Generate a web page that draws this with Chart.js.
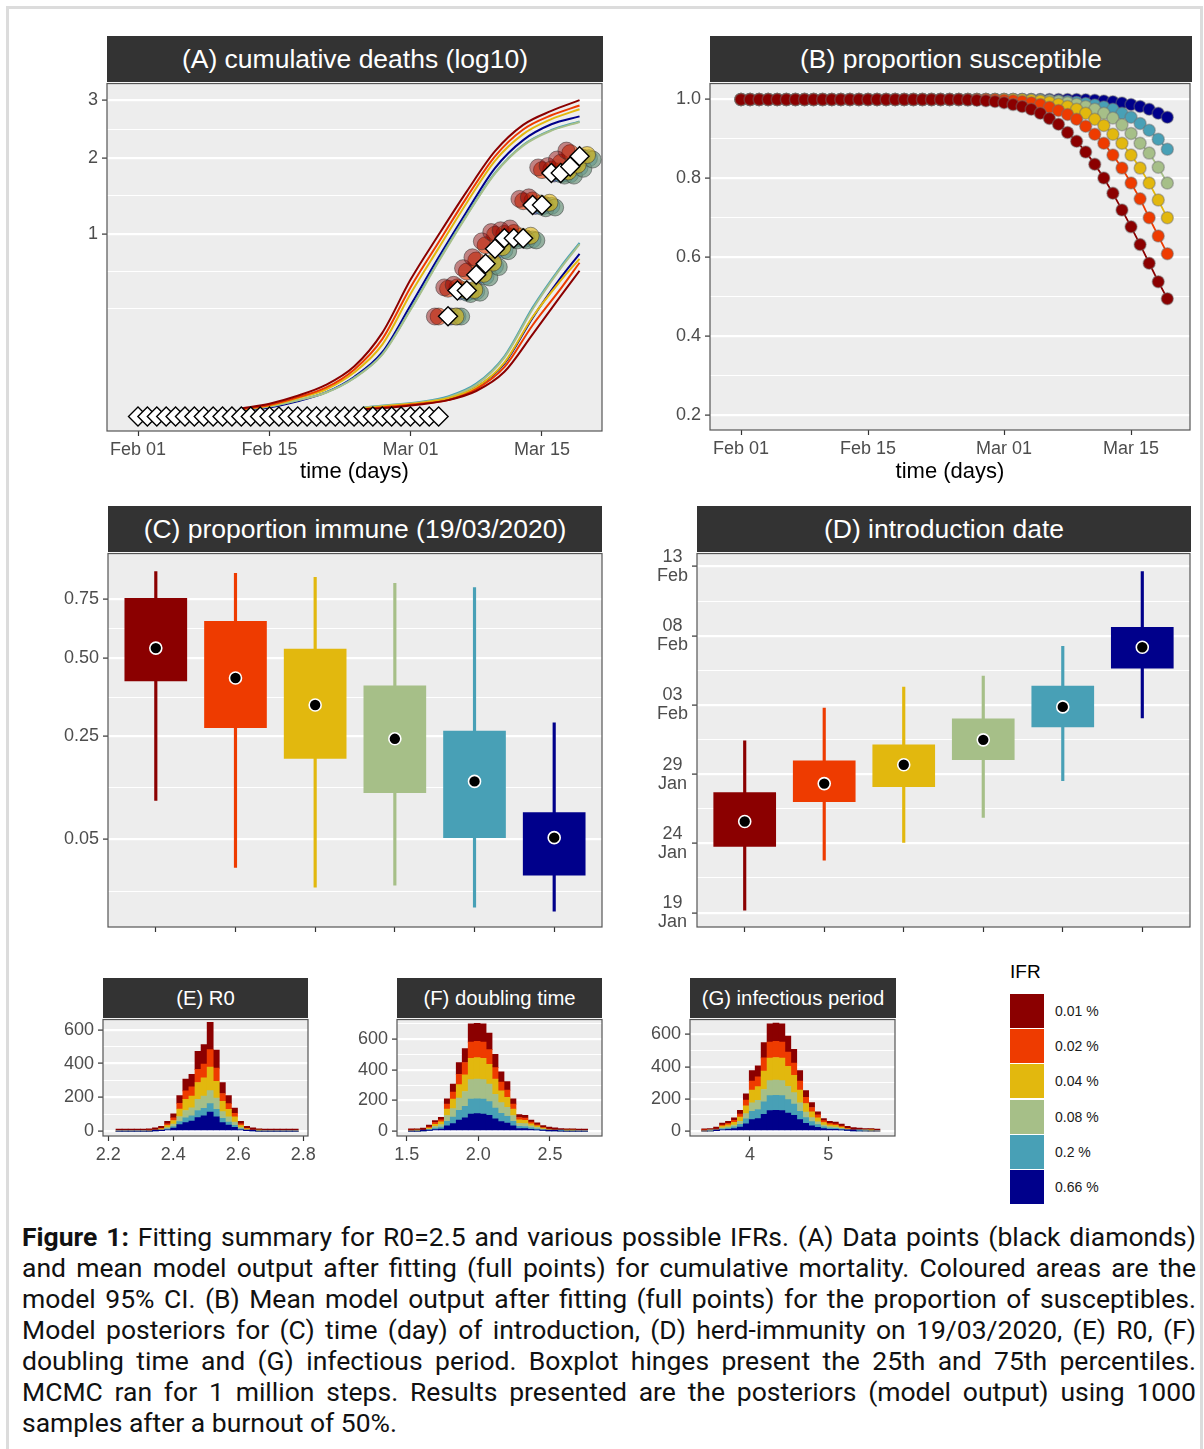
<!DOCTYPE html>
<html>
<head>
<meta charset="utf-8">
<title>Figure 1</title>
<script src="https://cdn.jsdelivr.net/npm/chart.js@4.4.1/dist/chart.umd.min.js"></script>
<style>
  body { margin: 0; background: #fff; }
  #fig { position: relative; width: 1204px; height: 1449px; overflow: hidden; font-family: 'Liberation Sans', Arial, sans-serif; }
  #frame { position: absolute; left: 6px; top: 6px; width: 1191px; height: 1500px; border: 3px solid #DCDCDC; }
  .strip { position: absolute; background: #333333; color: #fff; text-align: center; white-space: nowrap; }
  canvas { position: absolute; }
  #legend .key { position: absolute; left: 1010px; width: 34px; height: 34px; }
  #legend .lab { position: absolute; left: 1055px; font-size: 14px; line-height: 16px; color: #1a1a1a; }
  #caption { position: absolute; left: 22px; top: 1221px; width: 1174px; font-family: Roboto, sans-serif; font-size: 26.5px; line-height: 31px; color: #111; }
  #caption div { white-space: nowrap; text-align: justify; text-align-last: justify; }
  #caption div.last { text-align-last: left; }
</style>
</head>
<body>
<div id="fig">
  <div id="frame"></div>

  <div class="strip" style="left:107px;top:36px;width:496px;height:46px;line-height:46px;font-size:26.5px">(A) cumulative deaths (log10)</div>
  <div class="strip" style="left:710px;top:36px;width:482px;height:46px;line-height:46px;font-size:26.5px">(B) proportion susceptible</div>
  <div class="strip" style="left:108px;top:506px;width:494px;height:46px;line-height:46px;font-size:26.5px">(C) proportion immune (19/03/2020)</div>
  <div class="strip" style="left:697px;top:506px;width:494px;height:46px;line-height:46px;font-size:26.5px">(D) introduction date</div>
  <div class="strip" style="left:103px;top:978px;width:205px;height:40px;line-height:40px;font-size:20.3px">(E) R0</div>
  <div class="strip" style="left:397px;top:978px;width:205px;height:40px;line-height:40px;font-size:20.3px">(F) doubling time</div>
  <div class="strip" style="left:690px;top:978px;width:206px;height:40px;line-height:40px;font-size:20.3px">(G) infectious period</div>

  <canvas id="cA"></canvas>
  <canvas id="cB"></canvas>
  <canvas id="cC"></canvas>
  <canvas id="cD"></canvas>
  <canvas id="cE"></canvas>
  <canvas id="cF"></canvas>
  <canvas id="cG"></canvas>

  <div id="legend"></div>

  <div id="caption">
    <div><b>Figure 1:</b> Fitting summary for R0=2.5 and various possible IFRs. (A) Data points (black diamonds)</div>
    <div>and mean model output after fitting (full points) for cumulative mortality. Coloured areas are the</div>
    <div>model 95% CI. (B) Mean model output after fitting (full points) for the proportion of susceptibles.</div>
    <div>Model posteriors for (C) time (day) of introduction, (D) herd-immunity on 19/03/2020, (E) R0, (F)</div>
    <div>doubling time and (G) infectious period. Boxplot hinges present the 25th and 75th percentiles.</div>
    <div>MCMC ran for 1 million steps. Results presented are the posteriors (model output) using 1000</div>
    <div class="last">samples after a burnout of 50%.</div>
  </div>
</div>

<script>
Chart.defaults.font.family = "'Liberation Sans', Arial, sans-serif";

// IFR groups
const ifrLevels = ['0.01 %', '0.02 %', '0.04 %', '0.08 %', '0.2 %', '0.66 %'];
const ifrColors = ['#8B0000', '#EE3B00', '#E2B80E', '#A6BF88', '#48A0B6', '#00008B'];
const ifrFaded = ['rgba(139,0,0,0.45)', 'rgba(238,59,0,0.6)', 'rgba(226,184,14,0.6)', 'rgba(110,150,125,0.7)', 'rgba(72,160,182,0.6)', 'rgba(0,0,139,0.5)'];

// time axis (days after Feb 01 2020)
const dateTickDays = [0, 14, 29, 43];
const dateTickLabels = ['Feb 01', 'Feb 15', 'Mar 01', 'Mar 15'];

// (A) cumulative deaths, log10
const observedDeaths = [0,0,0,0,0,0,0,0,0,0,0,0,0,0,0,0,0,0,0,0,0,0,0,0,0,0,0,0,0,0,0,0,0,
  0.301,0.477,0.477,0.602,0.699,0.845,0.954,0.954,0.954,1.342,1.342,1.778,1.778,1.875,2.029];
const modelDays = [33,34,35,36,37,38,39,40,41,42,43,44,45,46,47];
const modelMean = [
  [0.30,0.50,0.52,0.66,0.76,0.92,1.02,1.04,1.06,1.42,1.44,1.86,1.88,1.98,2.12],
  [0.30,0.49,0.50,0.63,0.73,0.88,0.99,1.00,1.01,1.39,1.40,1.82,1.83,1.93,2.08],
  [0.30,0.48,0.48,0.61,0.71,0.86,0.97,0.97,0.98,1.36,1.37,1.80,1.80,1.90,2.05],
  [0.30,0.45,0.46,0.58,0.67,0.82,0.93,0.93,0.93,1.30,1.31,1.74,1.74,1.84,1.98],
  [0.30,0.46,0.47,0.59,0.68,0.83,0.94,0.94,0.94,1.32,1.33,1.76,1.76,1.86,2.00],
  [0.30,0.47,0.47,0.60,0.69,0.84,0.95,0.95,0.95,1.33,1.34,1.77,1.77,1.87,2.01]
];
const modelDodge = [-1.4, -1.0, 0.8, 1.4, 1.0, 0.3];
const ciUpperDays = [11,14,17,20,23,26,29,32,35,38,41,44,47];
const ciUpper = [
  [0.002,0.005,0.013,0.03,0.075,0.21,0.56,0.99,1.52,2.11,2.55,2.80,3.0],
  [0.0016,0.004,0.011,0.025,0.066,0.18,0.50,0.91,1.44,2.03,2.47,2.72,2.90],
  [0.0016,0.0036,0.01,0.022,0.058,0.155,0.45,0.85,1.37,1.96,2.39,2.65,2.83],
  [0.0012,0.003,0.008,0.017,0.044,0.115,0.34,0.72,1.21,1.77,2.20,2.45,2.60],
  [0.0012,0.003,0.008,0.0175,0.045,0.117,0.345,0.73,1.22,1.78,2.21,2.46,2.61],
  [0.0009,0.0025,0.007,0.0175,0.047,0.124,0.37,0.76,1.26,1.85,2.29,2.56,2.70]
];
const ciLowerDays = [24,27,30,33,36,39,42,45,47];
const ciLower = [
  [0.0016,0.0025,0.0044,0.0081,0.0196,0.06,0.2025,0.436,0.637],
  [0.0016,0.003,0.0049,0.0081,0.0225,0.073,0.25,0.49,0.709],
  [0.002,0.0036,0.0056,0.01,0.0256,0.087,0.297,0.555,0.746],
  [0.0025,0.004,0.006,0.011,0.03,0.104,0.345,0.66,0.89],
  [0.0025,0.0042,0.0064,0.0121,0.0324,0.109,0.356,0.672,0.904],
  [0.002,0.0036,0.0056,0.01,0.0256,0.084,0.292,0.578,0.794]
];
const deathTicks = [1, 2, 3];
const deathTickLabels = ['1', '2', '3'];
const deathMinor = [0.35, 0.63, 1.46, 2.47];

// (B) proportion susceptible, days 0..47
const susceptible = [
  [1,1,1,1,1,1,1,1,1,1,1,1,1,1,1,1,1,1,1,1,1,1,1,1,1,
   0.999,0.998,0.997,0.995,0.992,0.987,0.982,0.975,0.965,0.952,0.937,0.916,0.894,0.867,0.836,0.801,0.762,0.720,0.677,0.632,0.585,0.538,0.495],
  [1,1,1,1,1,1,1,1,1,1,1,1,1,1,1,1,1,1,1,1,1,1,1,1,1,1,1,1,
   0.999,0.998,0.997,0.995,0.992,0.987,0.980,0.972,0.962,0.950,0.932,0.912,0.889,0.859,0.826,0.788,0.748,0.700,0.654,0.609],
  [1,1,1,1,1,1,1,1,1,1,1,1,1,1,1,1,1,1,1,1,1,1,1,1,1,1,1,1,1,1,1,
   0.999,0.998,0.996,0.993,0.988,0.982,0.975,0.965,0.950,0.934,0.912,0.889,0.859,0.826,0.788,0.745,0.700],
  [1,1,1,1,1,1,1,1,1,1,1,1,1,1,1,1,1,1,1,1,1,1,1,1,1,1,1,1,1,1,1,1,
   0.999,0.998,0.997,0.995,0.992,0.988,0.982,0.975,0.965,0.953,0.936,0.914,0.889,0.864,0.828,0.788],
  [1,1,1,1,1,1,1,1,1,1,1,1,1,1,1,1,1,1,1,1,1,1,1,1,1,1,1,1,1,1,1,1,1,
   0.999,0.998,0.997,0.995,0.993,0.990,0.986,0.981,0.975,0.965,0.955,0.939,0.922,0.899,0.874],
  [1,1,1,1,1,1,1,1,1,1,1,1,1,1,1,1,1,1,1,1,1,1,1,1,1,1,1,1,1,1,1,1,1,1,1,1,1,1,
   0.999,0.998,0.996,0.994,0.991,0.987,0.982,0.975,0.965,0.955]
];
const propTicks = [0.2, 0.4, 0.6, 0.8, 1.0];
const propTickLabels = ['0.2', '0.4', '0.6', '0.8', '1.0'];
const propMinor = [0.3, 0.5, 0.7, 0.9];

// (C) proportion immune on 19/03/2020
const immuneMin = [0.107, 0.022, 0.0092, 0.0102, 0.0018, 0.001];
const immuneQ1  = [0.418, 0.272, 0.193, 0.121, 0.052, 0.0163];
const immuneMed = [0.539, 0.428, 0.339, 0.242, 0.143, 0.052];
const immuneQ3  = [0.752, 0.649, 0.535, 0.401, 0.263, 0.087];
const immuneMax = [0.881, 0.872, 0.852, 0.823, 0.803, 0.286];
const immuneTicks = [0.05, 0.25, 0.5, 0.75];
const immuneTickLabels = ['0.05', '0.25', '0.50', '0.75'];
const immuneMinor = [0.0073, 0.131, 0.364, 0.619];

// (D) introduction date, days after 19 Jan 2020
const introMin = [0.18, 3.78, 5.07, 6.87, 9.53, 14.06];
const introQ1  = [4.78, 8.02, 9.10, 11.04, 13.42, 17.66];
const introMed = [6.58, 9.32, 10.68, 12.48, 14.86, 19.17];
const introQ3  = [8.67, 10.97, 12.12, 13.99, 16.37, 20.61];
const introMax = [12.41, 14.78, 16.29, 17.09, 19.24, 24.64];
const introTicks = [0, 5, 10, 15, 20, 25];
const introTickLabels = [['19', 'Jan'], ['24', 'Jan'], ['29', 'Jan'], ['03', 'Feb'], ['08', 'Feb'], ['13', 'Feb']];
const introMinor = [2.5, 7.5, 12.5, 17.5, 22.5];

// (E)-(G) posterior histograms, 30 bins, one row per IFR
const countTicks = [0, 200, 400, 600];
const countTickLabels = ['0', '200', '400', '600'];
const countMinor = [100, 300, 500, 700];

const r0BinStart = 2.2236, r0BinWidth = 0.0187;
const r0Counts = [
  [2,2,2,2,2,2,4,8,15,24,45,70,74,107,115,162,107,65,47,30,15,8,3,2,2,2,2,2,2,2],
  [0,0,0,0,0,1,2,4,10,16,34,50,55,78,82,103,78,46,34,22,10,4,2,1,0,0,0,0,0,0],
  [0,0,0,0,0,0,2,5,12,22,45,66,70,100,108,140,100,62,45,30,12,5,2,1,0,0,0,0,0,0],
  [0,0,0,0,0,0,2,3,8,14,30,44,48,66,72,77,66,40,30,20,8,3,1,0,0,0,0,0,0,0],
  [0,0,0,0,0,0,1,2,5,9,18,28,30,42,45,50,44,25,18,12,5,2,1,0,0,0,0,0,0,0],
  [0,0,0,0,0,0,1,3,8,18,38,50,60,80,90,113,85,50,36,22,8,3,1,0,0,0,0,0,0,0]
];
const r0Ticks = [2.2, 2.4, 2.6, 2.8];
const r0TickLabels = ['2.2', '2.4', '2.6', '2.8'];

const dblBinStart = 1.512, dblBinWidth = 0.0417;
const dblCounts = [
  [3,2,2,8,13,16,35,53,76,92,120,118,120,109,86,66,55,35,19,18,12,8,5,4,3,2,2,2,2,2],
  [1,1,2,6,11,14,32,46,67,81,105,107,105,96,75,58,48,32,16,15,11,7,4,3,2,1,1,1,0,0],
  [0,1,2,7,14,18,42,62,89,108,140,140,140,128,100,77,65,42,22,21,14,10,6,3,2,1,1,1,0,0],
  [0,0,1,5,12,16,38,55,80,97,126,129,126,115,90,70,58,38,19,19,13,9,5,3,2,1,0,0,0,0],
  [0,0,1,4,9,12,30,43,63,76,98,97,98,90,70,54,45,30,15,14,10,7,4,2,1,1,0,0,0,0],
  [0,0,1,4,10,14,34,49,72,86,112,114,112,103,80,62,52,34,17,16,11,8,4,2,1,0,0,0,0,0]
];
const dblTicks = [1.5, 2.0, 2.5];
const dblTickLabels = ['1.5', '2.0', '2.5'];

const infBinStart = 3.383, infBinWidth = 0.0759;
const infCounts = [
  [3,3,4,10,10,16,23,39,65,68,94,114,113,114,100,86,65,43,30,19,13,10,10,6,4,3,2,3,2,2],
  [1,1,3,7,9,12,19,35,56,61,82,100,101,100,88,76,56,38,26,18,12,8,8,6,3,3,2,1,1,0],
  [0,1,3,10,12,17,27,49,79,85,115,140,141,140,124,107,79,53,37,25,16,12,11,8,4,2,2,1,1,0],
  [0,1,2,6,8,11,18,32,52,57,77,93,94,93,83,71,52,35,25,17,11,8,7,5,3,2,1,1,0,0],
  [0,0,2,6,8,11,18,32,52,57,77,93,94,93,83,71,52,35,25,17,11,8,7,5,3,1,1,0,0,0],
  [0,0,2,8,10,15,24,44,71,77,104,127,128,127,112,97,71,48,33,23,15,11,10,7,3,1,0,0,0,0]
];
const infTicks = [4, 5];
const infTickLabels = ['4', '5'];

// ---------- helpers ----------
const sqrtT = v => Math.sqrt(v);

// grey panel + frame, ggplot style
Chart.register({
  id: 'panelFrame',
  beforeDraw(chart) {
    const a = chart.chartArea, ctx = chart.ctx;
    ctx.save();
    ctx.fillStyle = '#EDEDED';
    ctx.fillRect(a.left, a.top, a.right - a.left, a.bottom - a.top);
    ctx.restore();
  },
  afterDraw(chart) {
    const a = chart.chartArea, ctx = chart.ctx;
    ctx.save();
    ctx.strokeStyle = '#555';
    ctx.lineWidth = 1.2;
    ctx.strokeRect(a.left, a.top, a.right - a.left, a.bottom - a.top);
    ctx.restore();
  }
});

function place(id, left, top, w, h) {
  const c = document.getElementById(id);
  c.width = w; c.height = h;
  c.style.left = left + 'px'; c.style.top = top + 'px';
  return c;
}

function valueAxis(o) {
  const tf = o.tf || (v => v);
  const inside = v => tf(v) >= o.min && tf(v) <= o.max;
  return {
    type: 'linear', min: o.min, max: o.max, stacked: !!o.stacked,
    afterBuildTicks: s => {
      s.ticks = o.majors.map((v, i) => ({ value: tf(v), text: o.labels[i], isMajor: true }))
        .concat(o.minors.filter(inside).map(v => ({ value: tf(v), text: '' })));
    },
    afterFit: s => { s.width = o.width; },
    ticks: {
      color: '#4D4D4D', font: { size: 18, lineHeight: 1.06 }, padding: 4, autoSkip: false,
      crossAlign: o.crossAlign || 'near',
      callback: (v, i, t) => t[i].text
    },
    grid: {
      color: '#FFFFFF',
      lineWidth: c => (c.tick && c.tick.isMajor) ? 2.2 : 1,
      tickColor: c => (c.tick && c.tick.isMajor) ? '#333' : 'rgba(0,0,0,0)',
      tickLength: 5, tickWidth: 1.2
    },
    border: { display: false }
  };
}

function indexAxis(o) {
  return {
    type: 'linear', min: o.min, max: o.max, offset: false, stacked: !!o.stacked,
    afterBuildTicks: s => {
      s.ticks = o.ticks.map((v, i) => ({ value: v, text: o.labels ? o.labels[i] : '' }));
    },
    afterFit: s => { s.height = o.height; },
    ticks: {
      color: '#4D4D4D', font: { size: 18 }, padding: 3, maxRotation: 0, autoSkip: false,
      callback: (v, i, t) => t[i].text
    },
    grid: { offset: false, drawOnChartArea: false, tickColor: '#333', tickLength: 5, tickWidth: 1.2 },
    border: { display: false },
    title: o.title
      ? { display: true, text: o.title, color: '#000', font: { size: 22 }, padding: { top: 0, bottom: 2 } }
      : { display: false }
  };
}

function baseOptions(scales, padRight) {
  return {
    responsive: false, animation: false, events: [],
    layout: { padding: { top: 12, right: padRight || 20, left: 0, bottom: 0 } },
    plugins: { legend: { display: false }, tooltip: { enabled: false } },
    scales
  };
}

// ---------- (A) cumulative deaths ----------
const aSets = [];
ifrColors.forEach((col, k) => {
  aSets.push({
    data: ciUpperDays.map((d, i) => ({ x: d, y: sqrtT(ciUpper[k][i]) })),
    borderColor: col, borderWidth: 2, pointRadius: 0, cubicInterpolationMode: 'monotone', order: 3
  });
  aSets.push({
    data: ciLowerDays.map((d, i) => ({ x: d, y: sqrtT(ciLower[k][i]) })),
    borderColor: col, borderWidth: 2, pointRadius: 0, cubicInterpolationMode: 'monotone', order: 3
  });
});
ifrColors.forEach((col, k) => {
  aSets.push({
    data: modelDays.map((d, i) => ({ x: d + modelDodge[k], y: sqrtT(modelMean[k][i]) })),
    showLine: false, pointRadius: 8.5, pointBackgroundColor: ifrFaded[k],
    pointBorderColor: 'rgba(50,50,50,0.5)', pointBorderWidth: 1, order: 2
  });
});
aSets.push({
  data: observedDeaths.map((v, i) => ({ x: i, y: sqrtT(v) })),
  showLine: false, pointStyle: 'rectRot', pointRadius: 9.5,
  pointBackgroundColor: '#FFFFFF', pointBorderColor: '#000', pointBorderWidth: 1.4, order: 1
});

new Chart(place('cA', 67, 70, 555, 417), {
  type: 'line',
  data: { datasets: aSets },
  options: baseOptions({
    x: indexAxis({ min: -3.30, max: 49.39, ticks: dateTickDays, labels: dateTickLabels, height: 56, title: 'time (days)' }),
    y: valueAxis({ min: -0.079, max: 1.823, majors: deathTicks, labels: deathTickLabels, minors: deathMinor, width: 40, tf: sqrtT })
  })
});

// ---------- (B) proportion susceptible ----------
new Chart(place('cB', 660, 70, 550, 417), {
  type: 'line',
  data: {
    datasets: susceptible.map((row, k) => ({
      data: row.map((v, i) => ({ x: i, y: v })),
      borderColor: ifrColors[k], borderWidth: 1.8,
      pointRadius: 6, pointBackgroundColor: ifrColors[k],
      pointBorderColor: 'rgba(110,110,110,0.45)', pointBorderWidth: 1.5,
      order: k
    }))
  },
  options: baseOptions({
    x: indexAxis({ min: -3.42, max: 49.5, ticks: dateTickDays, labels: dateTickLabels, height: 57, title: 'time (days)' }),
    y: valueAxis({ min: 0.162, max: 1.0404, majors: propTicks, labels: propTickLabels, minors: propMinor, width: 50 })
  })
});

// ---------- (C) and (D) boxplots ----------
function boxSets(mins, q1s, meds, q3s, maxs, tf) {
  const xs = ifrLevels.map((_, i) => i + 1);
  return [
    { type: 'scatter', data: xs.map((x, i) => ({ x, y: tf(meds[i]) })),
      pointRadius: 6, pointBackgroundColor: '#000', pointBorderColor: '#fff', pointBorderWidth: 1.6, order: 0 },
    { type: 'bar', data: xs.map((x, i) => ({ x, y: [tf(q1s[i]), tf(q3s[i])] })),
      backgroundColor: ifrColors, borderWidth: 0, barThickness: 62, grouped: false, order: 1 },
    { type: 'bar', data: xs.map((x, i) => ({ x, y: [tf(mins[i]), tf(maxs[i])] })),
      backgroundColor: ifrColors, borderWidth: 0, barThickness: 2.5, grouped: false, order: 2 }
  ];
}
// x axis kept tall enough for the overhang of the lowest y label
const boxX = { min: 0.4, max: 6.6, ticks: [1, 2, 3, 4, 5, 6], height: 26 };

new Chart(place('cC', 48, 540, 574, 413), {
  type: 'bar',
  data: { datasets: boxSets(immuneMin, immuneQ1, immuneMed, immuneQ3, immuneMax, sqrtT) },
  options: baseOptions({
    x: indexAxis(boxX),
    y: valueAxis({ min: -0.0106, max: 0.9867, majors: immuneTicks, labels: immuneTickLabels, minors: immuneMinor, width: 60, tf: sqrtT })
  })
});

new Chart(place('cD', 642, 540, 562, 413), {
  type: 'bar',
  data: { datasets: boxSets(introMin, introQ1, introMed, introQ3, introMax, v => v) },
  options: baseOptions({
    x: indexAxis(boxX),
    y: valueAxis({ min: -1.04, max: 25.94, majors: introTicks, labels: introTickLabels, minors: introMinor, width: 55, crossAlign: 'center' })
  }, 14)
});

// ---------- (E)-(G) stacked histograms ----------
function histChart(id, left, counts, binStart, binWidth, xr, ticks, labels, ymax, ymin) {
  // blue first so it sits at the bottom of the stack
  const sets = counts.map((row, k) => ({
    data: row.map((c, i) => ({ x: binStart + binWidth * (i + 0.5), y: c })),
    backgroundColor: ifrColors[k], borderWidth: 0,
    barPercentage: 1, categoryPercentage: 1,
    minBarLength: k === 0 ? 2 : 0
  })).reverse();
  new Chart(place(id, left, 1006, 270, 160), {
    type: 'bar',
    data: { datasets: sets },
    options: baseOptions({
      x: indexAxis({ min: xr[0], max: xr[1], ticks, labels, height: 30, stacked: true }),
      y: valueAxis({ min: ymin, max: ymax, majors: countTicks, labels: countTickLabels, minors: countMinor, width: 45, stacked: true })
    })
  });
}

histChart('cE', 58, r0Counts, r0BinStart, r0BinWidth, [2.1837, 2.8145], r0Ticks, r0TickLabels, 661, -29);
histChart('cF', 352, dblCounts, dblBinStart, dblBinWidth, [1.4323, 2.8629], dblTicks, dblTickLabels, 729, -32);
histChart('cG', 645, infCounts, infBinStart, infBinWidth, [3.2337, 5.852], infTicks, infTickLabels, 693, -31);

// ---------- shared legend ----------
document.getElementById('legend').innerHTML =
  '<div style="position:absolute;left:1010px;top:961px;font-size:19px;line-height:22px;color:#000">IFR</div>' +
  ifrLevels.map((lab, i) =>
    '<div class="key" style="top:' + (994 + 35.2 * i) + 'px;background:' + ifrColors[i] + '"></div>' +
    '<div class="lab" style="top:' + (1003 + 35.2 * i) + 'px">' + lab + '</div>').join('');

// ---------- caption: keep each justified line inside its box ----------
const probe = document.createElement('span');
probe.style.cssText = 'position:absolute;visibility:hidden;white-space:nowrap;font-family:Roboto,sans-serif;font-size:26.5px';
document.body.appendChild(probe);
document.querySelectorAll('#caption div').forEach(line => {
  probe.innerHTML = line.innerHTML;
  const w = probe.getBoundingClientRect().width;
  if (w > 1174) {
    const gaps = (line.textContent.match(/ /g) || []).length;
    line.style.wordSpacing = ((1174 - w) / gaps - 0.3) + 'px';
  }
});
probe.remove();
</script>
</body>
</html>
